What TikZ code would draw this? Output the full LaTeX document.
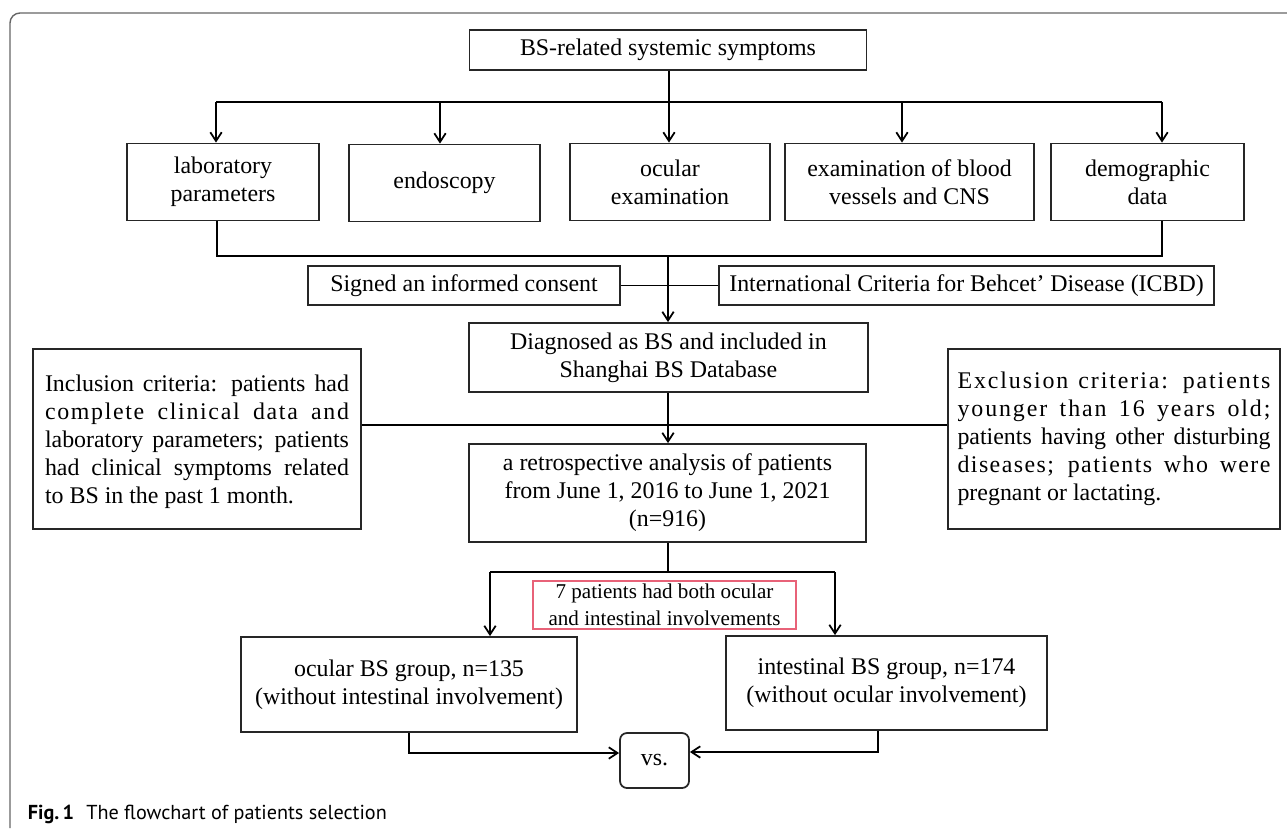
\documentclass[tikz,border=0pt]{standalone}
\usepackage{fontspec}
\setmainfont{Liberation Serif}
\newfontfamily\capfont{PT Sans}
\usetikzlibrary{arrows.meta}
\definecolor{notered}{RGB}{232,98,120}
\newlength\incw \setlength\incw{6.08cm}
\newlength\excw \setlength\excw{6.26cm}
\newcommand\spreadline[2]{\makebox[#1][s]{#2}}
\newcommand\wideline[3]{\makebox[#1][s]{\addfontfeature{LetterSpace=#2}#3}}
\begin{document}
\begin{tikzpicture}[x=0.02cm,y=-0.02cm,line width=1pt,
            >={Straight Barb[length=5pt,width=6.5pt]},
            box/.style={draw=black!85,rectangle,align=center,inner sep=0pt,font=\fontsize{13.6}{15.9}\selectfont},
            sz/.style 2 args={minimum width=#1*0.02cm,minimum height=#2*0.02cm},
            note/.style={draw=notered,line width=0.8pt,rectangle,align=center,inner sep=0pt,font=\fontsize{12}{15.2}\selectfont},
            frame/.style={draw=black!60,line width=0.8pt,rounded corners=0.2cm}]
            \useasboundingbox (0,0) rectangle (1287,828);
            \draw[frame] (10,828) -- (10,13) -- (1287,13);

            \node[box,sz={397}{40}] (bsr) at (668,50) {BS-related systemic symptoms};
            \node[box,sz={192}{77}] (lab) at (223,182) {laboratory\\parameters};
            \node[box,sz={191}{77}] (endo) at (444.5,183) {endoscopy};
            \node[box,sz={200}{77}] (ocex) at (670,182) {ocular\\examination};
            \node[box,sz={249}{77}] (vess) at (909.5,182) {examination of blood\\vessels and CNS};
            \node[box,sz={193}{77}] (demo) at (1147.5,182) {demographic\\data};
            \node[box,sz={312}{39}] (consent) at (464,285.5) {Signed an informed consent};
            \node[box,sz={495}{39}] (icbd) at (966.5,285.5) {International Criteria for Behcet’ Disease (ICBD)};
            \node[box,sz={399}{69}] (diag) at (668.5,357.5) {Diagnosed as BS and included in\\Shanghai BS Database};
            \node[box,align=left,sz={328}{180},text depth=0pt] (incl) at (197,439) {\spreadline\incw{Inclusion criteria: patients had}\\\wideline\incw{7}{complete clinical data and}\\\spreadline\incw{laboratory parameters; patients}\\\spreadline\incw{had clinical symptoms related}\\to BS in the past 1 month.};
            \node[box,align=left,sz={332}{180}] (excl) at (1114,439) {\wideline\excw{8}{Exclusion criteria: patients}\\\wideline\excw{8}{younger than 16 years old;}\\\spreadline\excw{patients having other disturbing}\\\wideline\excw{6}{diseases; patients who were}\\pregnant or lactating.};
            \node[box,sz={397}{98}] (retro) at (667.5,493) {a retrospective analysis of patients\\from June 1, 2016 to June 1, 2021\\(n=916)};
            \node[note,sz={263}{48}] (both) at (664.5,605) {7 patients had both ocular\\and intestinal involvements};
            \node[box,sz={336}{95}] (ocbs) at (409,684.5) {ocular BS group, n=135\\(without intestinal involvement)};
            \node[box,sz={321}{94}] (inbs) at (886.5,683) {intestinal BS group, n=174\\(without ocular involvement)};
            \node[box,rounded corners=0.14cm,sz={69}{55}] (vs) at (654.5,760.5) {vs.};
            \node[anchor=base west,inner sep=0pt,font=\capfont\fontsize{11.5}{14}\selectfont] (cap) at (27,819) {\textbf{Fig.\,1}\hspace{0.6em}The flowchart of patients selection};

            \coordinate (s1) at (216,102);
            \coordinate (s2) at (440,102);
            \coordinate (s3) at (669,102);
            \coordinate (s4) at (902,102);
            \coordinate (s5) at (1162,102);
            \draw (s1) -- (s5);
            \draw[->] (s3 |- bsr.south) -- (s3 |- ocex.north);
            \draw[->] (s1) -- (s1 |- lab.north);
            \draw[->] (s2) -- (s2 |- endo.north);
            \draw[->] (s4) -- (s4 |- vess.north);
            \draw[->] (s5) -- (s5 |- demo.north);

            \coordinate (m0) at (668,256);
            \coordinate (m1) at (217,256);
            \coordinate (m2) at (1162,256);
            \draw (m1 |- lab.south) -- (m1) -- (m2) -- (m2 |- demo.south);
            \draw (consent) -- (icbd);
            \draw[->] (m0) -- (m0 |- diag.north);
            \draw[->] (m0 |- diag.south) -- (m0 |- retro.north);
            \coordinate (h) at (668,425);
            \draw (incl.east |- h) -- (excl.west |- h);

            \coordinate (c0) at (668,572);
            \coordinate (c1) at (490,572);
            \coordinate (c2) at (835,572);
            \draw (c0 |- retro.south) -- (c0);
            \draw (c1) -- (c2);
            \draw[->] (c1) -- (c1 |- ocbs.north);
            \draw[->] (c2) -- (c2 |- inbs.north);
            \coordinate (v1) at (409,753);
            \coordinate (v2) at (878,752);
            \draw[->] (ocbs.south) -- (v1) -- (v1 -| vs.west);
            \draw[->] (v2 |- inbs.south) -- (v2) -- (v2 -| vs.east);
\end{tikzpicture}
\end{document}
